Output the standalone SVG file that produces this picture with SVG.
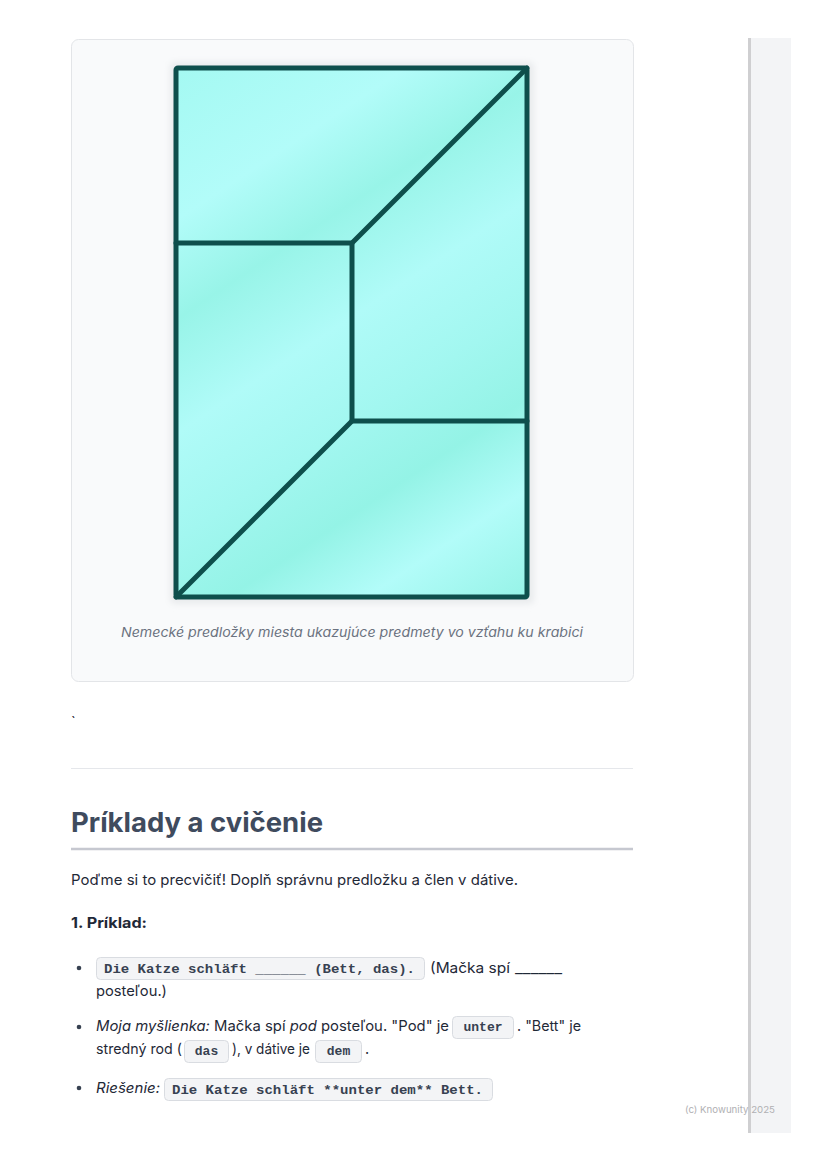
<svg xmlns="http://www.w3.org/2000/svg" width="828" height="1171" viewBox="0 0 828 1171">
<style>
.body{font-family:Inter,"Noto Sans","Liberation Sans",sans-serif;font-size:14.5px;fill:#1f2937}
.it{font-style:italic}
.code{font-family:"Liberation Mono","Courier New",monospace;font-size:13px;font-weight:bold;fill:#374151}
.cc{text-anchor:middle}
.cbox{fill:#f3f4f6;stroke:#d9dce1;stroke-width:1}
.ln{stroke:#0e4f4c;stroke-width:5;fill:none;stroke-linecap:round;stroke-linejoin:round}
</style>
<defs>
<linearGradient id="aq" gradientUnits="userSpaceOnUse" x1="176" y1="68" x2="527" y2="597">
<stop offset="0" stop-color="#a4f9f2"/>
<stop offset="0.2" stop-color="#b2fcf9"/>
<stop offset="0.33" stop-color="#98f4e8"/>
<stop offset="0.48" stop-color="#b0fbf8"/>
<stop offset="0.62" stop-color="#a2f7f0"/>
<stop offset="0.74" stop-color="#94f3e6"/>
<stop offset="0.86" stop-color="#b2fcf9"/>
<stop offset="1" stop-color="#96f3e7"/>
</linearGradient>
<filter id="sh" x="-10%" y="-10%" width="120%" height="120%">
<feGaussianBlur stdDeviation="3"/>
</filter>
</defs>
<rect width="828" height="1171" fill="#ffffff"/>
<g id="sidebar">
<rect x="751" y="38" width="40" height="1095" fill="#f3f4f6"/>
<rect x="748" y="38" width="3" height="1095" fill="#cfcfd1"/>
</g>
<g id="card">
<rect x="71.5" y="39.5" width="562" height="642" rx="7" fill="#f9fafb" stroke="#e3e5e8"/>
<rect x="170" y="62" width="364" height="542" rx="5" fill="#e9ebed" filter="url(#sh)"/>
</g>
<g id="box">
<rect x="176" y="68" width="351" height="529" rx="2" fill="url(#aq)"/>
</g>
<g id="connectors">
<rect x="176" y="68" width="351" height="529" rx="2" class="ln" stroke-width="6"/>
<polyline class="ln" points="176,243 352,243 527,68"/>
<line class="ln" x1="352" y1="243" x2="352" y2="421"/>
<polyline class="ln" points="527,421 352,421 176,597"/>
</g>
<text id="caption" x="352" y="637" text-anchor="middle" font-family="Inter,'Noto Sans','Liberation Sans',sans-serif" font-size="13.5" font-style="italic" fill="#6b7280" textLength="462" lengthAdjust="spacingAndGlyphs">Nemecké predložky miesta ukazujúce predmety vo vzťahu ku krabici</text>
<text x="71" y="727" class="body" fill="#555">`</text>
<line x1="71" y1="768.5" x2="633" y2="768.5" stroke="#e5e7eb" stroke-width="1"/>
<text id="heading" x="71" y="832" font-family="Inter,'Noto Sans','Liberation Sans',sans-serif" font-size="27" font-weight="bold" fill="#3f4b5e" textLength="252" lengthAdjust="spacingAndGlyphs">Príklady a cvičenie</text>
<line x1="71" y1="849" x2="633" y2="849" stroke="#c6c8d0" stroke-width="2.5"/>
<text x="71" y="885" class="body" textLength="447" lengthAdjust="spacingAndGlyphs">Poďme si to precvičiť! Doplň správnu predložku a člen v dátive.</text>
<text x="71" y="928" class="body" font-weight="bold" fill="#111827" textLength="76" lengthAdjust="spacingAndGlyphs">1. Príklad:</text>
<g id="bullets" fill="#374151">
<circle cx="79" cy="968" r="2.3"/>
<circle cx="79" cy="1027" r="2.3"/>
<circle cx="79" cy="1088" r="2.3"/>
</g>
<g id="item1">
<rect class="cbox" x="96.5" y="957.5" width="328" height="22" rx="4"/>
<text class="code" x="104" y="973" textLength="311" lengthAdjust="spacingAndGlyphs">Die Katze schläft ______ (Bett, das).</text>
<text class="body" x="430" y="973" textLength="80" lengthAdjust="spacingAndGlyphs">(Mačka spí</text>
<text class="body" x="515" y="973" textLength="47" lengthAdjust="spacingAndGlyphs">______</text>
<text class="body" x="96" y="996" textLength="71" lengthAdjust="spacingAndGlyphs">posteľou.)</text>
</g>
<g id="item2">
<text class="body" x="96" y="1031" textLength="353" lengthAdjust="spacingAndGlyphs"><tspan class="it">Moja myšlienka:</tspan> Mačka spí <tspan class="it">pod</tspan> posteľou. "Pod" je</text>
<rect class="cbox" x="452.5" y="1016.5" width="61" height="22" rx="4"/>
<text class="code cc" x="483" y="1031">unter</text>
<text class="body" x="517" y="1031" textLength="64" lengthAdjust="spacingAndGlyphs">. "Bett" je</text>
<text class="body" x="96" y="1054" textLength="86" lengthAdjust="spacingAndGlyphs">stredný rod (</text>
<rect class="cbox" x="184.5" y="1040.5" width="44" height="22" rx="4"/>
<text class="code cc" x="206.5" y="1055">das</text>
<text class="body" x="232" y="1054" textLength="78" lengthAdjust="spacingAndGlyphs">), v dátive je</text>
<rect class="cbox" x="315.5" y="1040.5" width="46" height="22" rx="4"/>
<text class="code cc" x="338.5" y="1055">dem</text>
<text class="body" x="365" y="1054">.</text>
</g>
<g id="item3">
<text class="body it" x="96" y="1093" textLength="64" lengthAdjust="spacingAndGlyphs">Riešenie:</text>
<rect class="cbox" x="164.5" y="1078.5" width="328" height="22" rx="4"/>
<text class="code" x="172" y="1094" textLength="311" lengthAdjust="spacingAndGlyphs">Die Katze schläft **unter dem** Bett.</text>
</g>
<text id="watermark" x="685" y="1113" font-family="Inter,'Noto Sans','Liberation Sans',sans-serif" font-size="9.5" fill="#b0b0b3" textLength="90" lengthAdjust="spacingAndGlyphs">(c) Knowunity 2025</text>
</svg>
